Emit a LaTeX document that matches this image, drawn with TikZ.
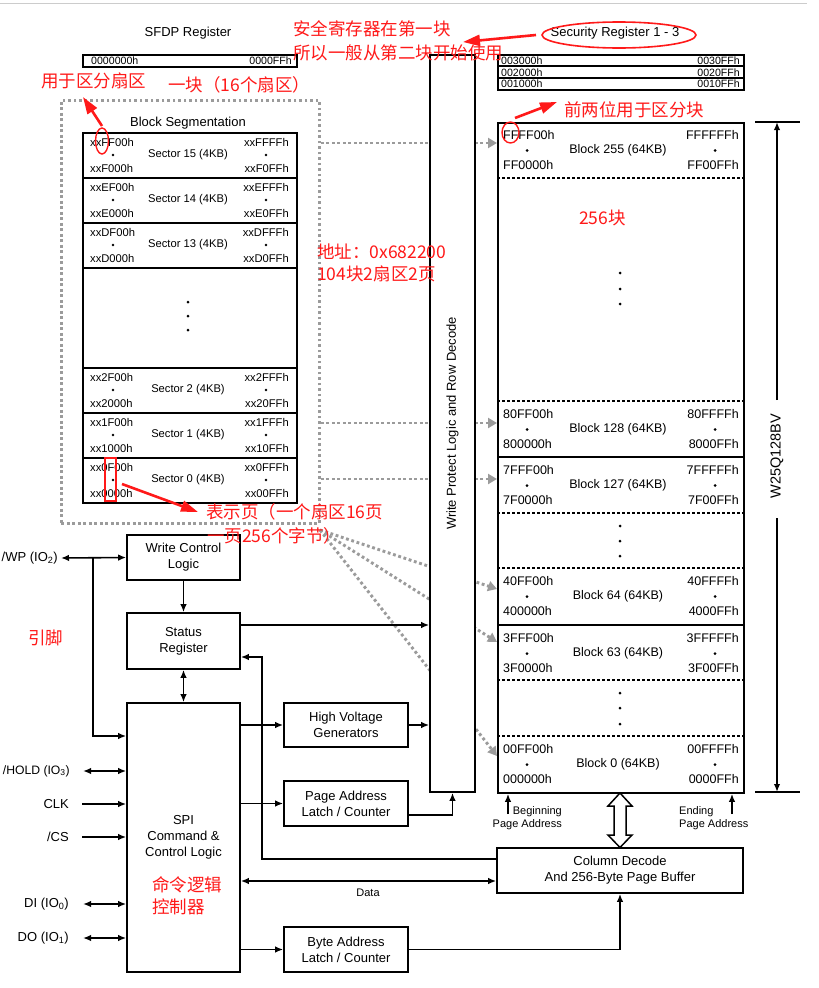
\documentclass[tikz,border=0pt]{standalone}
\usepackage{fontspec}
\setmainfont{Liberation Sans}
\newfontfamily\cjk{Noto Sans CJK SC}
\newfontfamily\widef{Liberation Sans}
\usetikzlibrary{arrows.meta}
\definecolor{rd}{RGB}{255,25,25}
\definecolor{gd}{RGB}{155,155,155}
\newcommand\flab{\fontsize{13}{15.8}\selectfont}
\newcommand\fblk{\fontsize{12.5}{15}\selectfont}
\newcommand\fsec{\fontsize{11.2}{13}\selectfont}
\newcommand\fsml{\fontsize{11}{13.8}\selectfont}
\newcommand\freg{\widef\fontsize{10.6}{12}\selectfont}
\newcommand\fred{\cjk\fontsize{17.5}{21}\selectfont}
\newcommand\sectorrow[7]{%
  \node[secbox, anchor=north west, minimum width=214pt, minimum height=45pt] (#2) at (82,#1) {};
  \node[anchor=west, font=\fsec, inner sep=0pt] at (90,{#1+10}) {#4};
  \fill (113,{#1+23}) circle (1.4pt);
  \node[anchor=west, font=\fsec, inner sep=0pt] at (90,{#1+36}) {#5};
  \node[font=\fsec, inner sep=0pt] at (188,{#1+23}) {#3};
  \node[anchor=east, font=\fsec, inner sep=0pt] at (289,{#1+10}) {#6};
  \fill (266,{#1+23}) circle (1.4pt);
  \node[anchor=east, font=\fsec, inner sep=0pt] at (289,{#1+36}) {#7};
}
\newcommand\blockrow[7]{%
  \node[anchor=north west, minimum width=246pt, minimum height=56pt, inner sep=0pt] (#2) at (497,#1) {};
  \node[anchor=west, font=\fblk, inner sep=0pt] at (503,{#1+13}) {#4};
  \fill (527,{#1+28.5}) circle (1.5pt);
  \node[anchor=west, font=\fblk, inner sep=0pt] at (503,{#1+43.5}) {#5};
  \node[font=\fblk, inner sep=0pt] at (618,{#1+28.5}) {#3};
  \node[anchor=east, font=\fblk, inner sep=0pt] at (739,{#1+13}) {#6};
  \fill (715,{#1+28.5}) circle (1.5pt);
  \node[anchor=east, font=\fblk, inner sep=0pt] at (739,{#1+43.5}) {#7};
}
\begin{document}
\begin{tikzpicture}[x=1pt,y=-1pt,
  box/.style={draw, line width=1.6pt, fill=white, align=center, inner sep=0pt, font=\flab},
  secbox/.style={draw, line width=1.6pt, inner sep=0pt},
  arr/.style={line width=1.6pt, -{Latex[length=8pt,width=6.5pt]}},
  darr/.style={line width=1.6pt, {Latex[length=8pt,width=6.5pt]}-{Latex[length=8pt,width=6.5pt]}},
  gdot/.style={draw=gd, line width=2.9pt, dash pattern=on 2.8pt off 2.7pt},
  gdarr/.style={gdot, -{Triangle[length=9pt,width=10pt]}},
  dsh/.style={line width=1.3pt, dash pattern=on 3pt off 2pt},
  redarr/.style={draw=rd, line width=2.6pt, -{Triangle[length=17pt,width=11pt]}},
  redtxt/.style={text=rd, font=\fred, inner sep=0pt, anchor=west},
  pin/.style={font=\flab, inner sep=0pt, anchor=east}]
\useasboundingbox (0,0) rectangle (819,988);
\fill[white] (0,0) rectangle (819,988);
\draw[gray!40, line width=1pt] (0,3.5) -- (807,3.5);

% ---------- top registers ----------
\node[font=\flab, inner sep=0pt] (sfdpt) at (188,33) {SFDP Register};
\node[draw, line width=1.8pt, anchor=north west, minimum width=214pt, minimum height=12pt, inner sep=0pt] (sfdp) at (82,54) {};
\node[font=\freg, anchor=west, inner sep=0pt] at (91,60.5) {0000000h};
\node[font=\freg, anchor=east, inner sep=0pt] at (292,60.5) {0000FFh};

\node[font=\flab, inner sep=0pt] (sect) at (615,33) {Security Register 1 - 3};
\node[draw, line width=1.8pt, anchor=north west, minimum width=246pt, minimum height=35pt, inner sep=0pt] (secreg) at (497,54) {};
\draw[line width=1.6pt] (497,66) -- (743,66) (497,78) -- (743,78);
\node[font=\freg, anchor=west, inner sep=0pt] at (501,60.5) {003000h};
\node[font=\freg, anchor=east, inner sep=0pt] at (740,60.5) {0030FFh};
\node[font=\freg, anchor=west, inner sep=0pt] at (501,72.5) {002000h};
\node[font=\freg, anchor=east, inner sep=0pt] at (740,72.5) {0020FFh};
\node[font=\freg, anchor=west, inner sep=0pt] at (501,84) {001000h};
\node[font=\freg, anchor=east, inner sep=0pt] at (740,84) {0010FFh};

% ---------- block segmentation ----------
\node[gdot, anchor=north west, minimum width=258pt, minimum height=423pt, inner sep=0pt] (frame) at (60,99) {};
\node[font=\flab, inner sep=0pt] (segt) at (188,123) {Block Segmentation};
\node[secbox, anchor=north west, minimum width=214pt, minimum height=370pt] (seg) at (82,132) {};
\sectorrow{132}{s15}{Sector 15 (4KB)}{xxFF00h}{xxF000h}{xxFFFFh}{xxF0FFh}
\sectorrow{177}{s14}{Sector 14 (4KB)}{xxEF00h}{xxE000h}{xxEFFFh}{xxE0FFh}
\sectorrow{222}{s13}{Sector 13 (4KB)}{xxDF00h}{xxD000h}{xxDFFFh}{xxD0FFh}
\sectorrow{367}{s2}{Sector 2 (4KB)}{xx2F00h}{xx2000h}{xx2FFFh}{xx20FFh}
\sectorrow{412}{s1}{Sector 1 (4KB)}{xx1F00h}{xx1000h}{xx1FFFh}{xx10FFh}
\sectorrow{457}{s0}{Sector 0 (4KB)}{xx0F00h}{xx0000h}{xx0FFFh}{xx00FFh}
\foreach \yy in {302,316,330} \fill (188,\yy) circle (1.5pt);

% ---------- gray dotted mapping arrows ----------
\node[draw, line width=1.8pt, fill=white, anchor=north west, minimum width=246pt, minimum height=670pt, inner sep=0pt] (blockcol) at (497,122) {};
\coordinate (fo) at (320,530);
\draw[gdarr] (frame.east |- 0,143) -- (blockcol.west |- 0,143);
\draw[gdarr] (frame.east |- 0,423) -- (blockcol.west |- 0,423);
\draw[gdarr] (frame.east |- 0,479) -- (blockcol.west |- 0,479);
\draw[gdarr] (fo) -- (blockcol.west |- 0,589);
\draw[gdarr] (fo) -- (blockcol.west |- 0,642);
\draw[gdarr] (fo) -- (blockcol.west |- 0,756);

% ---------- write protect ----------
\node[box, minimum width=45pt, minimum height=737pt] (wp) at (452.5,423.5) {};
\node[rotate=90, font=\flab, inner sep=0pt] at (wp.center) {Write Protect Logic and Row Decode};

% ---------- block column ----------
\blockrow{122}{b255}{Block 255 (64KB)}{FFFF00h}{FF0000h}{FFFFFFh}{FF00FFh}
\blockrow{401}{b128}{Block 128 (64KB)}{80FF00h}{800000h}{80FFFFh}{8000FFh}
\blockrow{457}{b127}{Block 127 (64KB)}{7FFF00h}{7F0000h}{7FFFFFh}{7F00FFh}
\blockrow{568}{b64}{Block 64 (64KB)}{40FF00h}{400000h}{40FFFFh}{4000FFh}
\blockrow{625}{b63}{Block 63 (64KB)}{3FFF00h}{3F0000h}{3FFFFFh}{3F00FFh}
\blockrow{736}{b0}{Block 0 (64KB)}{00FF00h}{000000h}{00FFFFh}{0000FFh}
\foreach \yy in {178,401,513,568,680,736} \draw[dsh] (497,\yy) -- (743,\yy);
\foreach \yy in {457,625} \draw[line width=1.6pt] (497,\yy) -- (743,\yy);
\foreach \yy in {273,289,304,526,541,556,693,708,724} \fill (620,\yy) circle (1.5pt);

% dimension
\coordinate (dt) at (777,122);
\coordinate (db) at (777,792);
\draw[line width=1.6pt] (755,122) -- (800,122) (755,792) -- (800,792);
\node[rotate=90, font=\fontsize{14.5}{16}\selectfont, inner sep=0pt] (dim) at (777,456) {W25Q128BV};
\draw[arr] (777,400) -- (dt);
\draw[arr] (777,518) -- (db);

% page address arrows
\draw[arr] (508,814) -- (blockcol.south -| 508,0);
\draw[arr] (732,814) -- (blockcol.south -| 732,0);
\node[font=\fsml, align=right, anchor=north east, inner sep=0pt] (bpa) at (562,806) {Beginning\\Page Address};
\node[font=\fsml, align=left, anchor=north west, inner sep=0pt] (epa) at (679,806) {Ending\\Page Address};

% ---------- column decode ----------
\node[box, minimum width=246pt, minimum height=45pt] (col) at (620,870.5) {Column Decode\\And 256-Byte Page Buffer};
\draw[line width=1.5pt, fill=white] (620,793) -- (608,806) -- (614,806) -- (614,835) -- (608,835) -- (620,847.5) -- (632,835) -- (626,835) -- (626,806) -- (632,806) -- cycle;

% ---------- logic blocks ----------
\node[box, minimum width=113pt, minimum height=45pt] (wcl) at (183.5,557.5) {Write Control\\Logic};
\node[box, minimum width=113pt, minimum height=56pt] (status) at (183.5,641) {Status\\Register};
\node[box, minimum width=113pt, minimum height=269pt] (spi) at (183.5,837.5) {SPI\\Command \&\\Control Logic};
\node[box, minimum width=124pt, minimum height=44pt] (hv) at (346,725) {High Voltage\\Generators};
\node[box, minimum width=124pt, minimum height=45pt] (pal) at (346,803.5) {Page Address\\Latch / Counter};
\node[box, minimum width=124pt, minimum height=45pt] (bal) at (346,949.5) {Byte Address\\Latch / Counter};

\draw[arr] (wcl) -- (status);
\draw[darr] (status) -- (spi);
\draw[arr] (status.east |- 0,625) -- (wp.west |- 0,625);
\draw[arr] (col.west |- 0,859) -- (262,859) -- (262,657) -- (status.east |- 0,657);
\draw[arr] (spi.east |- hv.west) -- (hv.west);
\draw[arr] (hv.east) -- (wp.west |- hv.east);
\draw[arr] (spi.east |- pal.west) -- (pal.west);
\draw[arr] (pal.east |- 0,815) -| (wp.south);
\draw[darr] (spi.east |- 0,881) -- (col.west |- 0,881);
\node[font=\fsml, inner sep=0pt] (data) at (368,893) {Data};
\draw[arr] (spi.east |- bal.west) -- (bal.west);
\draw[arr] (bal.east) -| (col.south);

% ---------- pins ----------
\node[pin] (wpin) at (58,558) {/WP (IO\textsubscript{2})};
\draw[darr] ([xshift=3pt]wpin.east) -- (wcl.west);
\coordinate (wpj) at (93,558);
\coordinate (wpk) at (93,736);
\draw[arr] (wpj) -- (wpk) -- (spi.west |- wpk);
\node[pin, font=\fontsize{12.2}{14}\selectfont] (hold) at (70,771) {/HOLD (IO\textsubscript{3})};
\draw[darr] ([xshift=13pt]hold.east) -- (spi.west |- hold.east);
\node[pin] (clk) at (69,804) {CLK};
\draw[arr] ([xshift=13pt]clk.east) -- (spi.west |- clk.east);
\node[pin] (cs) at (69,837) {/CS};
\draw[arr] ([xshift=13pt]cs.east) -- (spi.west |- cs.east);
\node[pin] (di) at (69,904) {DI (IO\textsubscript{0})};
\draw[darr] ([xshift=14pt]di.east) -- (spi.west |- di.east);
\node[pin] (do) at (69,938) {DO (IO\textsubscript{1})};
\draw[darr] ([xshift=14pt]do.east) -- (spi.west |- do.east);

% ---------- red annotations ----------
\node[redtxt] at (293,29) {安全寄存器在第一块};
\node[redtxt] at (293,53) {所以一般从第二块开始使用};
\node[redtxt] at (41,81) {用于区分扇区};
\node[redtxt] at (168,85) {一块（16个扇区）};
\node[redtxt] at (564,110) {前两位用于区分块};
\node[redtxt] at (579,218) {256块};
\node[redtxt] at (317,252) {地址：0x682200};
\node[redtxt] at (317,274) {104块2扇区2页};
\node[redtxt] at (206,512) {表示页（一个扇区16页};
\node[redtxt] at (207,536) {一页256个字节）};
\node[redtxt] at (28,638) {引脚};
\node[redtxt] at (152,885) {命令逻辑};
\node[redtxt] at (152,907) {控制器};
\draw[rd, line width=1.6pt] (619,35) ellipse (77pt and 13pt);
\draw[rd, line width=1.4pt] (102,141) ellipse (6.5pt and 13pt);
\draw[rd, line width=1.4pt] (510.5,132.5) ellipse (8.5pt and 10.5pt);
\draw[rd, line width=1.4pt] (105,458) rectangle (116,501);
\draw[redarr] (536,35) -- (463,42);
\draw[redarr] (102,126) -- (83,97);
\draw[redarr] (515,118) -- (557,102);
\draw[redarr] (122,484) -- (198,512);
\end{tikzpicture}
\end{document}
